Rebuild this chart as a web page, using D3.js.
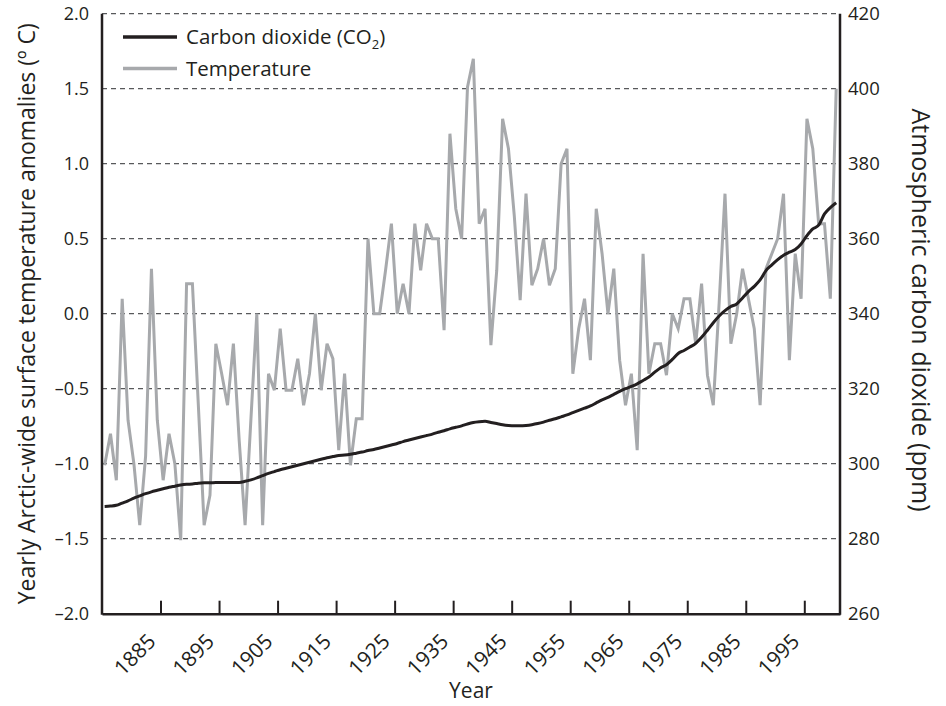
<!DOCTYPE html>
<html>
<head>
<meta charset="utf-8">
<script src="https://cdn.jsdelivr.net/npm/d3@7"></script>
<style>
  body { margin: 0; background: #fff; }
  svg text { font-family: "Open Sans", "Noto Sans", sans-serif; fill: #231f20; }
</style>
</head>
<body>
<div id="chart"></div>
<script>
// yearly values, first year 1875
const firstYear = 1875;

const temperature = [
  -1.01, -0.80, -1.11, 0.10, -0.71, -1.00, -1.41, -0.95, 0.30, -0.71,
  -1.11, -0.80, -1.00, -1.51, 0.20, 0.20, -0.60, -1.41, -1.21, -0.20,
  -0.40, -0.61, -0.20, -0.85, -1.41, -0.70, 0.00, -1.41, -0.40, -0.51,
  -0.10, -0.51, -0.51, -0.30, -0.61, -0.40, 0.00, -0.51, -0.20, -0.30,
  -0.91, -0.40, -1.01, -0.70, -0.70, 0.50, 0.00, 0.00, 0.29, 0.60,
  0.00, 0.20, 0.00, 0.60, 0.29, 0.60, 0.50, 0.50, -0.11, 1.20,
  0.70, 0.50, 1.51, 1.70, 0.60, 0.70, -0.21, 0.29, 1.30, 1.10,
  0.65, 0.09, 0.80, 0.19, 0.30, 0.50, 0.19, 0.30, 1.00, 1.10,
  -0.40, -0.10, 0.10, -0.31, 0.70, 0.40, 0.00, 0.30, -0.31, -0.61,
  -0.40, -0.91, 0.40, -0.40, -0.20, -0.20, -0.41, 0.00, -0.10, 0.10,
  0.10, -0.20, 0.20, -0.41, -0.61, 0.07, 0.80, -0.20, 0.00, 0.30,
  0.10, -0.10, -0.61, 0.30, 0.40, 0.50, 0.80, -0.31, 0.40, 0.10,
  1.30, 1.10, 0.60, 0.60, 0.10, 1.50
];

const co2 = [
  288.6, 288.7, 288.9, 289.5, 290.1, 290.8, 291.4, 292.0, 292.5, 292.9,
  293.3, 293.7, 294.0, 294.3, 294.5, 294.6, 294.8, 294.9, 294.9, 295.0,
  295.0, 295.0, 295.0, 295.0, 295.3, 295.7, 296.2, 296.8, 297.4, 297.9,
  298.4, 298.8, 299.2, 299.6, 300.0, 300.4, 300.8, 301.2, 301.6, 301.9,
  302.2, 302.3, 302.5, 302.8, 303.1, 303.5, 303.8, 304.2, 304.6, 305.0,
  305.4, 305.9, 306.3, 306.7, 307.1, 307.5, 307.9, 308.4, 308.8, 309.3,
  309.7, 310.1, 310.6, 311.0, 311.2, 311.3, 311.0, 310.7, 310.4, 310.2,
  310.1, 310.1, 310.2, 310.4, 310.7, 311.1, 311.6, 312.0, 312.5, 313.0,
  313.6, 314.2, 314.8, 315.4, 316.2, 317.0, 317.7, 318.5, 319.3, 320.0,
  320.6, 321.3, 322.2, 323.1, 324.4, 325.6, 326.4, 327.8, 329.4, 330.2,
  331.1, 332.1, 333.7, 335.6, 337.6, 339.4, 340.8, 341.9, 342.6, 344.2,
  345.9, 347.3, 349.0, 351.5, 353.0, 354.4, 355.6, 356.4, 357.1, 358.6,
  360.8, 362.6, 363.6, 366.6, 368.3, 369.6
];

const yearTicks = [1885, 1895, 1905, 1915, 1925, 1935, 1945, 1955, 1965, 1975, 1985, 1995];
const tempTicks = [-2.0, -1.5, -1.0, -0.5, 0.0, 0.5, 1.0, 1.5, 2.0];
const co2Ticks = [260, 280, 300, 320, 340, 360, 380, 400, 420];
const gridTicks = [-1.5, -1.0, -0.5, 0.0, 0.5, 1.0, 1.5, 2.0];

const width = 946, height = 706;
const plotLeft = 102, plotRight = 840, plotTop = 13.7, plotBottom = 613.7;

const tempData = temperature.map((v, i) => ({ year: firstYear + i, value: v }));
const co2Data = co2.map((v, i) => ({ year: firstYear + i, value: v }));

const svg = d3.select('#chart')
  .append('svg')
  .attr('width', width)
  .attr('height', height);

let x = d3.scaleLinear().domain([1875, 2001.1]).range([plotLeft, plotRight]);
let yTemp = d3.scaleLinear().domain([-2, 2]).range([plotBottom, plotTop]);
let yCo2 = d3.scaleLinear().domain([260, 420]).range([plotBottom, plotTop]);

// dashed grid
svg.append('g')
  .selectAll('line')
  .data(gridTicks)
  .enter()
  .append('line')
  .attr('x1', plotLeft)
  .attr('x2', plotRight)
  .attr('y1', d => yTemp(d))
  .attr('y2', d => yTemp(d))
  .attr('stroke', '#58595b')
  .attr('stroke-width', 1.2)
  .attr('stroke-dasharray', '5,4');

// data points sit half a year right of the tick marks
const tempLine = d3.line()
  .x(d => x(d.year + 0.45))
  .y(d => yTemp(d.value));

const co2Line = d3.line()
  .curve(d3.curveMonotoneX)
  .x(d => x(d.year + 0.45))
  .y(d => yCo2(d.value));

svg.append('path')
  .datum(tempData)
  .attr('d', tempLine)
  .attr('fill', 'none')
  .attr('stroke', '#a7a9ac')
  .attr('stroke-width', 3)
  .attr('stroke-linejoin', 'miter');

svg.append('path')
  .datum(co2Data)
  .attr('d', co2Line)
  .attr('fill', 'none')
  .attr('stroke', '#231f20')
  .attr('stroke-width', 3);

// x axis, ticks pointing inward
const xAxis = svg.append('g')
  .attr('transform', 'translate(0,' + plotBottom + ')')
  .call(d3.axisBottom(x).tickValues(yearTicks).tickSizeInner(-13).tickSizeOuter(0).tickFormat(d3.format('d')));

xAxis.select('.domain').attr('stroke', '#231f20').attr('stroke-width', 2.5);
xAxis.selectAll('.tick line').attr('stroke', '#231f20').attr('stroke-width', 2);
xAxis.selectAll('.tick text')
  .attr('font-size', '21px')
  .attr('text-anchor', 'end')
  .attr('dy', null)
  .attr('y', null)
  .attr('transform', 'translate(-4,29) rotate(-45)');

// left and right axis lines
svg.append('line')
  .attr('x1', plotLeft).attr('x2', plotLeft)
  .attr('y1', plotTop).attr('y2', plotBottom + 1)
  .attr('stroke', '#231f20').attr('stroke-width', 2.5);

svg.append('line')
  .attr('x1', plotRight).attr('x2', plotRight)
  .attr('y1', plotTop).attr('y2', plotBottom + 1)
  .attr('stroke', '#231f20').attr('stroke-width', 2.5);

svg.append('g')
  .selectAll('text')
  .data(tempTicks)
  .enter()
  .append('text')
  .attr('x', plotLeft - 13)
  .attr('y', d => yTemp(d))
  .attr('dy', '0.35em')
  .attr('text-anchor', 'end')
  .attr('font-size', '18px')
  .text(d => d3.format('.1f')(d).replace('-', '\u2013').replace('\u2212', '\u2013'));

svg.append('g')
  .selectAll('text')
  .data(co2Ticks)
  .enter()
  .append('text')
  .attr('x', plotRight + 8)
  .attr('y', d => yCo2(d))
  .attr('dy', '0.35em')
  .attr('text-anchor', 'start')
  .attr('font-size', '18.5px')
  .text(d => d);

// axis titles
svg.append('text')
  .attr('transform', 'translate(35,' + (plotTop + plotBottom) / 2 + ') rotate(-90)')
  .attr('text-anchor', 'middle')
  .attr('font-size', '23px')
  .text('Yearly Arctic-wide surface temperature anomalies (\u00ba C)');

svg.append('text')
  .attr('transform', 'translate(912,' + 310 + ') rotate(90)')
  .attr('text-anchor', 'middle')
  .attr('font-size', '25px')
  .text('Atmospheric carbon dioxide (ppm)');

svg.append('text')
  .attr('x', (plotLeft + plotRight) / 2)
  .attr('y', 698)
  .attr('text-anchor', 'middle')
  .attr('font-size', '21px')
  .text('Year');

// legend
const legend = svg.append('g');

legend.append('line')
  .attr('x1', 123).attr('x2', 177)
  .attr('y1', 37).attr('y2', 37)
  .attr('stroke', '#231f20').attr('stroke-width', 3.5);

const co2Label = legend.append('text')
  .attr('x', 186).attr('y', 44)
  .attr('font-size', '20.5px');
co2Label.append('tspan').text('Carbon dioxide (CO');
co2Label.append('tspan').attr('font-size', '13px').attr('dy', 5).text('2');
co2Label.append('tspan').attr('dy', -5).text(')');

legend.append('line')
  .attr('x1', 123).attr('x2', 177)
  .attr('y1', 68.5).attr('y2', 68.5)
  .attr('stroke', '#a7a9ac').attr('stroke-width', 3.5);

legend.append('text')
  .attr('x', 186).attr('y', 76)
  .attr('font-size', '20.5px')
  .text('Temperature');
</script>
</body>
</html>
